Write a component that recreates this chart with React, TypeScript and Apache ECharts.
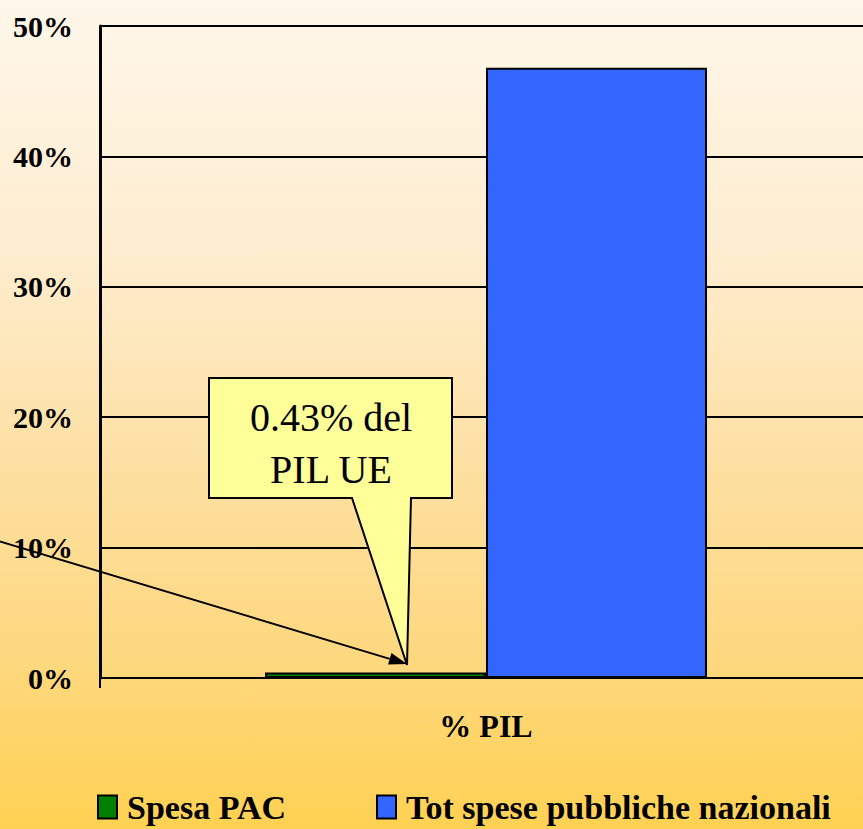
import React, { useEffect, useRef } from "react";
import * as echarts from "echarts";

const categories = ["% PIL"];
const seriesNames = ["Spesa PAC", "Tot spese pubbliche nazionali"];
const spesaPac = [0.43];
const totSpese = [46.8];
const yTicks = [0, 10, 20, 30, 40, 50];
const calloutLines = ["0.43% del", "PIL UE"];

const FONT = "Liberation Serif";

export default function App() {
  const ref = useRef<HTMLDivElement>(null);
  useEffect(() => {
    document.body.style.margin = "0";
    const chart = echarts.init(ref.current!, undefined, { renderer: "svg" });
    const tip = [407, 664];
    const dir = [0.958, 0.287];
    const base = [tip[0] - 18 * dir[0], tip[1] - 18 * dir[1]];
    const perp = [-dir[1] * 6, dir[0] * 6];
    chart.setOption({
      animation: false,
      backgroundColor: new echarts.graphic.LinearGradient(0, 0, 0, 1, [
        { offset: 0, color: "#FFF7EA" },
        { offset: 0.3, color: "#FEEDD0" },
        { offset: 0.55, color: "#FDE0A4" },
        { offset: 0.8, color: "#FED87E" },
        { offset: 1, color: "#FFD152" },
      ]),
      grid: { left: 100, top: 26, width: 772, height: 652, outerBoundsMode: "none", containLabel: false },
      legend: {
        data: seriesNames,
        left: 92,
        bottom: 0,
        icon: "rect",
        itemWidth: 19,
        itemHeight: 23,
        itemGap: 90,
        textStyle: {
          fontFamily: FONT,
          fontWeight: "bold",
          fontSize: 34,
          color: "#000",
          padding: [0, 0, 0, 5],
        },
      },
      xAxis: {
        type: "category",
        data: categories,
        axisLine: { lineStyle: { color: "#000", width: 2 } },
        axisTick: { show: true, length: 10, lineStyle: { color: "#000", width: 2 } },
        axisLabel: { margin: 32, fontFamily: FONT, fontWeight: "bold", fontSize: 32, color: "#000" },
      },
      yAxis: {
        type: "value",
        min: yTicks[0],
        max: yTicks[yTicks.length - 1],
        interval: 10,
        axisLine: { show: true, lineStyle: { color: "#000", width: 3 } },
        axisTick: { show: false },
        splitLine: { lineStyle: { color: "#000", width: 2 } },
        axisLabel: {
          formatter: "{value}%",
          margin: 27,
          fontFamily: FONT,
          fontWeight: "bold",
          fontSize: 30,
          color: "#000",
        },
      },
      series: [
        {
          name: seriesNames[0],
          type: "bar",
          data: spesaPac,
          barWidth: 221,
          barGap: "0%",
          itemStyle: { color: "#008000", borderColor: "#000", borderWidth: 2 },
        },
        {
          name: seriesNames[1],
          type: "bar",
          data: totSpese,
          barWidth: 221,
          itemStyle: { color: "#3366FF", borderColor: "#000", borderWidth: 2 },
        },
      ],
      graphic: [
        {
          type: "line",
          shape: { x1: -5, y1: 540, x2: base[0], y2: base[1] },
          style: { stroke: "#000", lineWidth: 2 },
          z: 100,
        },
        {
          type: "polygon",
          shape: {
            points: [
              tip,
              [base[0] + perp[0], base[1] + perp[1]],
              [base[0] - perp[0], base[1] - perp[1]],
            ],
          },
          style: { fill: "#000" },
          z: 100,
        },
        {
          type: "polygon",
          shape: {
            points: [
              [209, 378],
              [452, 378],
              [452, 498],
              [411, 498],
              [407, 665],
              [352, 498],
              [209, 498],
            ],
          },
          style: { fill: "#FFFF99", stroke: "#000", lineWidth: 2 },
          z: 101,
        },
        {
          type: "text",
          x: 331,
          y: 443,
          style: {
            text: calloutLines.join("\n"),
            fontFamily: FONT,
            fontSize: 40,
            lineHeight: 52,
            fill: "#000",
            align: "center",
            verticalAlign: "middle",
          },
          z: 102,
        },
      ],
    });
    return () => chart.dispose();
  }, []);
  return <div ref={ref} style={{ width: 863, height: 829 }} />;
}
